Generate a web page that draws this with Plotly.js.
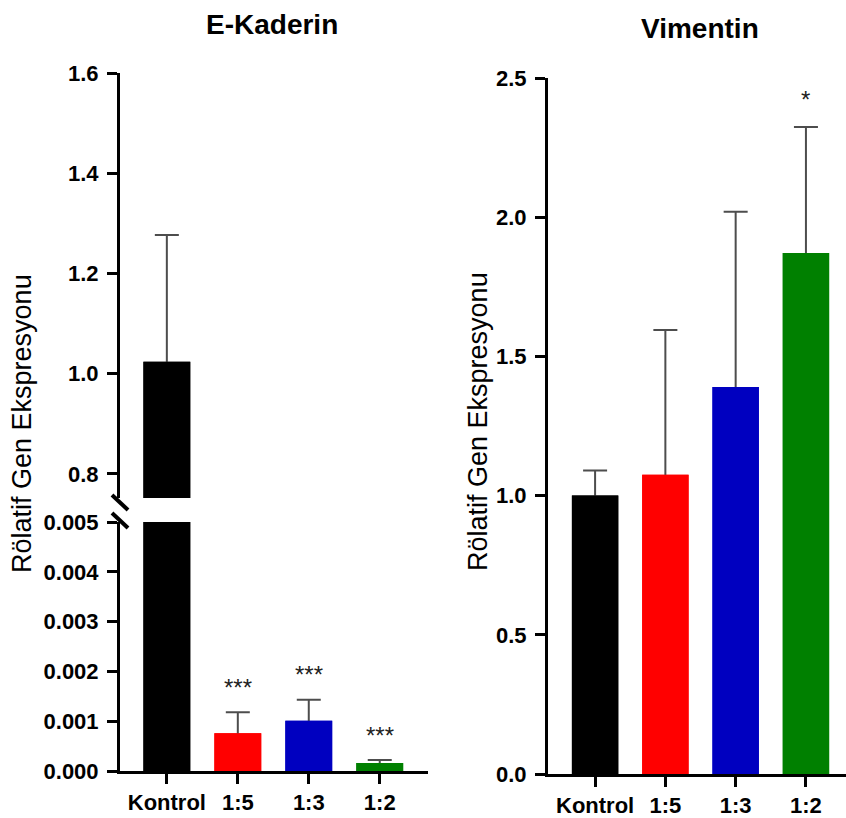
<!DOCTYPE html>
<html>
<head>
<meta charset="utf-8">
<script src="https://cdn.plot.ly/plotly-3.0.1.min.js"></script>
<style>html,body{margin:0;padding:0;background:#fff;}#chart{width:846px;height:818px;}</style>
</head>
<body>
<div id="chart"></div>
<script>
// ---- data ----
const categories = ['Kontrol', '1:5', '1:3', '1:2'];
const barColors = ['#000000', '#ff0000', '#0000c0', '#008000'];
const ekaderinMean = [1.024, 0.00076, 0.00101, 0.00016];
const ekaderinSEM = [0.253, 0.00042, 0.00042, 0.00006];
const ekaderinStars = ['', '***', '***', '***'];
const vimentinMean = [1.00, 1.075, 1.39, 1.871];
const vimentinSEM = [0.09, 0.52, 0.63, 0.453];
const vimentinStars = ['', '', '', '*'];
const yTitle = 'Rölatif Gen Ekspresyonu';
const titleLeft = 'E-Kaderin';
const titleRight = 'Vimentin';

// ---- layout helpers ----
const W = 846, H = 818;
const px = v => v / W;
const py = v => 1 - v / H;
const FONT = 'Arial, "Liberation Sans", sans-serif';
const errStyle = {type: 'data', visible: true, color: '#4d4d4d', thickness: 2, width: 12};

function barPair(mean, sem, xa, ya) {
  return [
    {type: 'bar', x: categories, y: mean, xaxis: xa, yaxis: ya,
     marker: {color: barColors, line: {width: 0}}, hoverinfo: 'skip',
     error_y: Object.assign({array: sem, symmetric: true}, errStyle), showlegend: false},
    {type: 'bar', x: categories, y: mean, xaxis: xa, yaxis: ya,
     marker: {color: barColors, line: {width: 0}}, hoverinfo: 'skip', showlegend: false}
  ];
}

const traces = [].concat(
  barPair(ekaderinMean, ekaderinSEM, 'x', 'y'),
  barPair(ekaderinMean, ekaderinSEM, 'x2', 'y2'),
  barPair(vimentinMean, vimentinSEM, 'x3', 'y3')
);

const axisBase = {
  showline: true, linecolor: '#000', linewidth: 3, mirror: false,
  ticks: 'outside', ticklen: 10, tickwidth: 3, tickcolor: '#000',
  showgrid: false, zeroline: false, automargin: false, fixedrange: true,
  tickfont: {family: FONT, size: 22, color: '#000', weight: 'bold'}
};
const yBase = Object.assign({}, axisBase, {ticklabelstandoff: 4});
const xBase = Object.assign({}, axisBase, {ticklabelstandoff: 0});

const annotations = [];
categories.forEach((c, i) => {
  if (ekaderinStars[i]) annotations.push({
    xref: 'x', yref: 'y', x: c, y: ekaderinMean[i] + ekaderinSEM[i],
    text: ekaderinStars[i], showarrow: false, yanchor: 'middle', yshift: 25,
    font: {family: FONT, size: 24, color: '#222'}
  });
  if (vimentinStars[i]) annotations.push({
    xref: 'x3', yref: 'y3', x: c, y: vimentinMean[i] + vimentinSEM[i],
    text: vimentinStars[i], showarrow: false, yanchor: 'middle', yshift: 27,
    font: {family: FONT, size: 24, color: '#222'}
  });
});
annotations.push(
  {xref: 'paper', yref: 'paper', x: px(272), y: py(25), text: titleLeft, showarrow: false,
   xanchor: 'center', yanchor: 'middle', font: {family: FONT, size: 28, color: '#000', weight: 'bold'}},
  {xref: 'paper', yref: 'paper', x: px(700), y: py(28), text: titleRight, showarrow: false,
   xanchor: 'center', yanchor: 'middle', font: {family: FONT, size: 28, color: '#000', weight: 'bold'}},
  {xref: 'paper', yref: 'paper', x: px(22), y: py(424), text: yTitle, showarrow: false, textangle: -90,
   xanchor: 'center', yanchor: 'middle', font: {family: FONT, size: 27, color: '#000'}},
  {xref: 'paper', yref: 'paper', x: px(478), y: py(422), text: yTitle, showarrow: false, textangle: -90,
   xanchor: 'center', yanchor: 'middle', font: {family: FONT, size: 27, color: '#000'}}
);

const layout = {
  width: W, height: H, autosize: false,
  margin: {l: 0, r: 0, t: 0, b: 0, pad: 0},
  paper_bgcolor: '#fff', plot_bgcolor: 'rgba(0,0,0,0)',
  barmode: 'overlay', bargap: 0.34, showlegend: false,
  xaxis: Object.assign({}, xBase, {domain: [px(120), px(428)], anchor: 'y', range: [-0.66, 3.68],
    type: 'category', categoryorder: 'array', categoryarray: categories}),
  xaxis2: {domain: [px(120), px(428)], anchor: 'y2', range: [-0.66, 3.68], type: 'category',
    categoryorder: 'array', categoryarray: categories, visible: false, fixedrange: true},
  yaxis: Object.assign({}, yBase, {domain: [py(771), py(522)], anchor: 'x', range: [0, 0.005],
    tickvals: [0, 0.001, 0.002, 0.003, 0.004, 0.005], tickformat: '.3f'}),
  yaxis2: Object.assign({}, yBase, {domain: [py(498), py(73)], anchor: 'x2', range: [0.752, 1.6],
    tickvals: [0.8, 1.0, 1.2, 1.4, 1.6], tickformat: '.1f'}),
  xaxis3: Object.assign({}, xBase, {domain: [px(548), 1], anchor: 'y3', range: [-0.67, 3.57],
    type: 'category', categoryorder: 'array', categoryarray: categories}),
  yaxis3: Object.assign({}, yBase, {domain: [py(774), py(78)], anchor: 'x3', range: [0, 2.5],
    tickvals: [0, 0.5, 1.0, 1.5, 2.0, 2.5], tickformat: '.1f'}),
  annotations: annotations,
  shapes: [
    {type: 'line', xref: 'paper', yref: 'paper', x0: px(112), y0: py(495), x1: px(128), y1: py(510),
     line: {color: '#000', width: 4}},
    {type: 'line', xref: 'paper', yref: 'paper', x0: px(112), y0: py(513), x1: px(128), y1: py(528),
     line: {color: '#000', width: 4}}
  ]
};

Plotly.newPlot('chart', traces, layout, {displayModeBar: false, staticPlot: true});
</script>
</body>
</html>
